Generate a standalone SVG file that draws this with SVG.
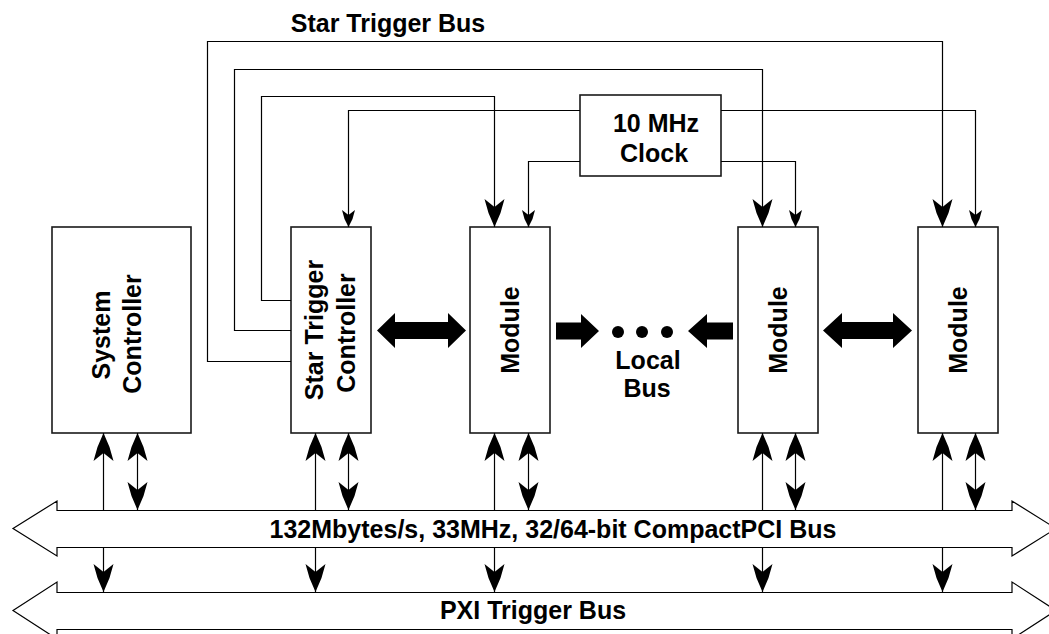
<svg xmlns="http://www.w3.org/2000/svg" width="1049" height="634" viewBox="0 0 1049 634">
<style>
.box{fill:#fff;stroke:#1a1a1a;stroke-width:1.6}
.ln{fill:none;stroke:#000;stroke-width:1.2}
.thick{fill:#000;stroke:none}
.bus{fill:#fff;stroke:#000;stroke-width:1.2}
.t{font-family:"Liberation Sans",Arial,sans-serif;font-weight:bold;font-size:25px;fill:#000;text-anchor:middle}
.big{marker-end:url(#ab)}
.dbl{marker-start:url(#ab);marker-end:url(#ab)}
.sm{marker-end:url(#as)}
</style>
<defs>
<marker id="ab" viewBox="-30 -12 32 24" markerWidth="32" markerHeight="24" refX="0" refY="0" orient="auto-start-reverse" markerUnits="userSpaceOnUse" overflow="visible">
<path d="M0,0 L-14,-6 L-28,-10 L-20,0 L-28,10 L-14,6 Z" fill="#000"/>
</marker>
<marker id="as" viewBox="-20 -8 22 16" markerWidth="22" markerHeight="16" refX="0" refY="0" orient="auto" markerUnits="userSpaceOnUse" overflow="visible">
<path d="M0,0 L-8,-4 L-17,-6.5 L-12,0 L-17,6.5 L-8,4 Z" fill="#000"/>
</marker>
</defs>
<rect width="1049" height="634" fill="#fff"/>

<g id="buses">
<polygon class="bus" points="57,510.5 1012,510.5 1012,501 1056,528.5 1012,556 1012,547.5 57,547.5 57,556 13,528.5 57,501"/>
<polygon class="bus" points="57,592.5 1012,592.5 1012,582 1056,610.5 1012,639 1012,629.5 57,629.5 57,639 13,610.5 57,582"/>
<text class="t" x="553" y="538">132Mbytes/s, 33MHz, 32/64-bit CompactPCI Bus</text>
<text class="t" x="533" y="619">PXI Trigger Bus</text>
</g>

<g id="system-controller">
<rect class="box" x="52" y="227" width="139" height="206"/>
<text class="t" transform="translate(110,335) rotate(-90)">System</text>
<text class="t" transform="translate(141,334) rotate(-90)">Controller</text>
</g>

<g id="star-trigger-controller">
<rect class="box" x="291" y="227" width="80" height="206"/>
<text class="t" transform="translate(323,330) rotate(-90)">Star Trigger</text>
<text class="t" transform="translate(355,333) rotate(-90)">Controller</text>
</g>

<g id="module-1">
<rect class="box" x="470" y="227" width="80" height="206"/>
<text class="t" transform="translate(519,330) rotate(-90)">Module</text>
</g>

<g id="module-2">
<rect class="box" x="738" y="227" width="80" height="206"/>
<text class="t" transform="translate(787,330) rotate(-90)">Module</text>
</g>

<g id="module-3">
<rect class="box" x="918" y="227" width="80" height="206"/>
<text class="t" transform="translate(967,330) rotate(-90)">Module</text>
</g>

<g id="clock">
<rect class="box" x="580" y="95" width="141" height="81"/>
<text class="t" x="656" y="132">10 MHz</text>
<text class="t" x="654" y="162">Clock</text>
</g>

<g id="local-bus">
<circle cx="618" cy="332" r="6"/>
<circle cx="642" cy="332" r="6"/>
<circle cx="667" cy="332" r="6"/>
<text class="t" x="648" y="369">Local</text>
<text class="t" x="647" y="397">Bus</text>
</g>

<text class="t" x="388" y="32">Star Trigger Bus</text>

<g id="connectors">
<!-- star trigger bus -->
<path class="ln big" d="M291,361.5 H207.5 V41.5 H942.5 V227"/>
<path class="ln big" d="M291,330.5 H234.5 V69.5 H762.5 V227"/>
<path class="ln big" d="M291,300.5 H261.5 V96.5 H494.5 V227"/>
<!-- clock -->
<path class="ln sm" d="M580,110.5 H348.5 V227"/>
<path class="ln sm" d="M721,110.5 H975.5 V227"/>
<path class="ln sm" d="M580,161.5 H528.5 V227"/>
<path class="ln sm" d="M721,161.5 H795.5 V227"/>
<!-- device to CompactPCI bus -->
<path class="ln big" d="M103.5,510 V433"/>
<path class="ln dbl" d="M137.5,510 V433"/>
<path class="ln big" d="M315.5,510 V433"/>
<path class="ln dbl" d="M348.5,510 V433"/>
<path class="ln big" d="M494.5,510 V433"/>
<path class="ln dbl" d="M528.5,510 V433"/>
<path class="ln big" d="M762.5,510 V433"/>
<path class="ln dbl" d="M795.5,510 V433"/>
<path class="ln big" d="M942.5,510 V433"/>
<path class="ln dbl" d="M975.5,510 V433"/>
<!-- CompactPCI to PXI trigger bus -->
<path class="ln big" d="M103.5,547 V592"/>
<path class="ln big" d="M315.5,547 V592"/>
<path class="ln big" d="M494.5,547 V592"/>
<path class="ln big" d="M762.5,547 V592"/>
<path class="ln big" d="M942.5,547 V592"/>
<!-- thick local bus arrows -->
<polygon class="thick" points="377,330.5 395,313 395,322 448,322 448,313 466,330.5 448,348 448,339 395,339 395,348"/>
<polygon class="thick" points="823,330.5 842,313 842,322 893,322 893,313 912,330.5 893,348 893,339 842,339 842,348"/>
<polygon class="thick" points="556,322.5 581,322.5 581,314 599,331 581,348 581,339.5 556,339.5"/>
<polygon class="thick" points="733,322.5 707,322.5 707,314 688,331 707,348 707,339.5 733,339.5"/>
</g>
</svg>
